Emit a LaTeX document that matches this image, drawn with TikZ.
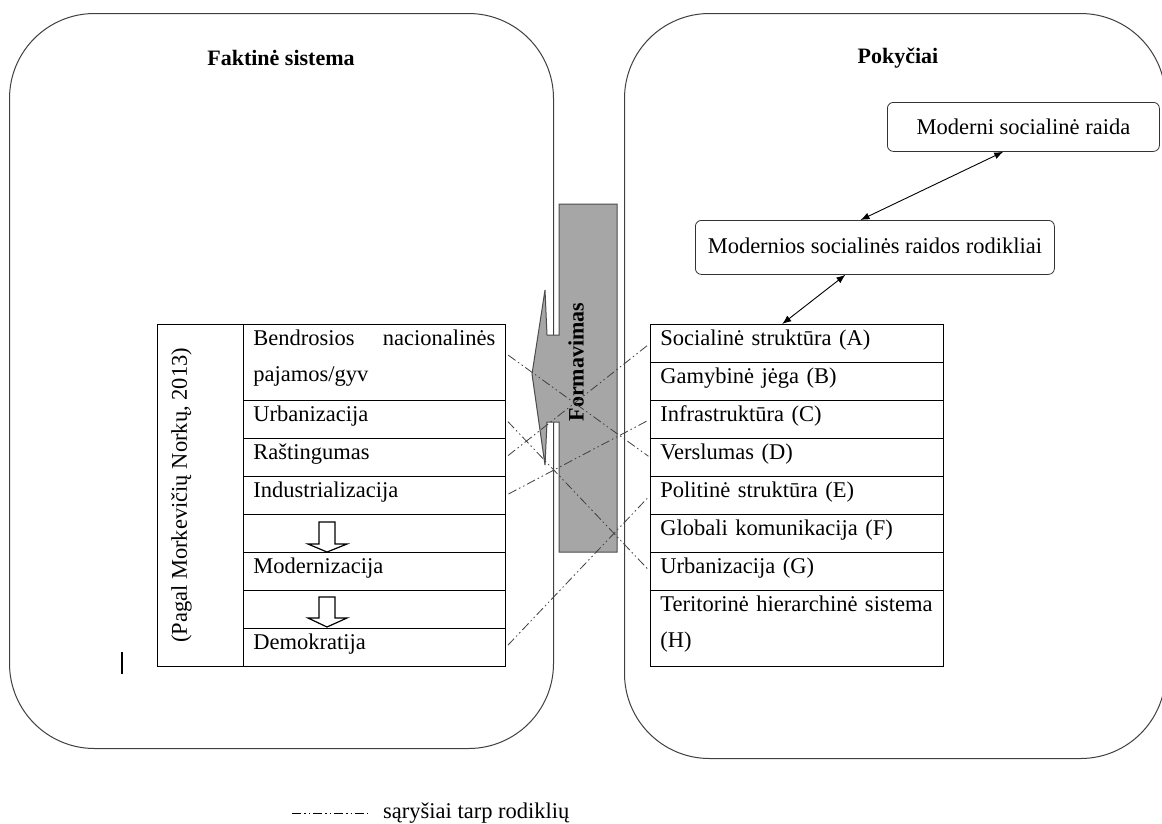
\documentclass[tikz,border=0pt]{standalone}
\usepackage{fontspec}
\setmainfont{Liberation Serif}
\usetikzlibrary{calc,arrows.meta}
\newcommand{\cellfont}{\fontsize{22.5}{36}\selectfont}
\newcommand{\ttlfont}{\fontsize{22}{26}\selectfont\bfseries}
\definecolor{callgray}{HTML}{A6A6A6}
\definecolor{linegray}{HTML}{404040}
\begin{document}
\begin{tikzpicture}[x=1pt,y=-1pt,
  contbox/.style={draw=black!75, line width=1pt, rounded corners=85pt, anchor=north west, inner sep=0pt},
  cellL/.style={draw=black, line width=0.8pt, rectangle, anchor=north west, inner xsep=10pt, inner ysep=0pt,
                text width=242pt, align=left, font=\cellfont, text height=21pt, text depth=17pt},
  cellR/.style={cellL, text width=273pt},
  topbox/.style={draw=black!80, line width=0.8pt, rounded corners=6pt, anchor=north west, inner sep=0pt, font=\cellfont},
  dbl/.style={{Latex[length=9pt,width=7pt]}-{Latex[length=9pt,width=7pt]}, line width=0.9pt},
  rel/.style={draw=linegray, line width=0.8pt, dash pattern=on 9pt off 3pt on 1.5pt off 3pt on 1.5pt off 3pt, shorten <=3pt, shorten >=2pt},
  hollow/.style={draw=black, line width=1.2pt, fill=white},
  ttl/.style={font=\ttlfont}
]
\fill[white] (0,0) rectangle (1162,823);
\useasboundingbox (0,0) rectangle (1162,823);

% containers
\node[contbox, minimum width=544pt, minimum height=735pt] (leftsys) at (9,13) {};
\node[contbox, minimum width=541pt, minimum height=745pt] (rightsys) at (624,13) {};
\node[ttl] (lefttitle) at (281,58) {Faktinė sistema};
\node[ttl] (righttitle) at (898,58) {Pokyčiai};

% central callout arrow
\filldraw[fill=callgray, draw=black!70, line width=1pt]
  (559,204) -- (617,204) -- (617,552) -- (559,552) -- (559,422) -- (547,422)
  -- (545,465) -- (532,374) -- (545,290) -- (547,335) -- (559,335) -- cycle;
\node[rotate=90, font=\ttlfont] (form) at (576,362) {Formavimas};

% left table
\node[draw=black, line width=0.8pt, anchor=north west, inner sep=0pt, minimum width=86pt, minimum height=342pt] (lcol) at (157,324) {};
\node[rotate=90, font=\cellfont] (lcoltext) at ([xshift=-19pt]lcol.center) {(Pagal Morkevičių Norkų, 2013)};
\node[cellL, text depth=55pt] (l1) at (243,324) {Bendrosios\hfill nacionalinės\\pajamos/gyv};
\node[cellL] (l2) at (243,400) {Urbanizacija};
\node[cellL] (l3) at (243,438) {Raštingumas};
\node[cellL] (l4) at (243,476) {Industrializacija};
\node[cellL] (l5) at (243,514) {};
\node[cellL] (l6) at (243,552) {Modernizacija};
\node[cellL] (l7) at (243,590) {};
\node[cellL] (l8) at (243,628) {Demokratija};

% hollow down arrows
\draw[hollow] (319,522) -- (335,522) -- (335,544) -- (347,544) -- (327,552) -- (308,544) -- (319,544) -- cycle;
\draw[hollow] (319,597) -- (335,597) -- (335,618) -- (347,618) -- (327,627) -- (308,618) -- (319,618) -- cycle;

% right table
\node[cellR] (r1) at (650,324) {Socialinė struktūra (A)};
\node[cellR] (r2) at (650,362) {Gamybinė jėga (B)};
\node[cellR] (r3) at (650,400) {Infrastruktūra (C)};
\node[cellR] (r4) at (650,438) {Verslumas (D)};
\node[cellR] (r5) at (650,476) {Politinė struktūra (E)};
\node[cellR] (r6) at (650,514) {Globali komunikacija (F)};
\node[cellR] (r7) at (650,552) {Urbanizacija (G)};
\node[cellR, text depth=55pt] (r8) at (650,590) {Teritorinė hierarchinė sistema\\(H)};

% top boxes
\node[topbox, minimum width=272pt, minimum height=49pt] (msr) at (887,102) {Moderni socialinė raida};
\node[topbox, minimum width=359pt, minimum height=54pt] (msrr) at (695,220) {\raisebox{3pt}{Modernios socialinės raidos rodikliai}};

\draw[dbl] ($(msr.south west)!0.426!(msr.south east)$) -- ($(msrr.north west)!0.46!(msrr.north east)$);
\draw[dbl] ($(msrr.south west)!0.418!(msrr.south east)$) -- ($(r1.north west)!0.45!(r1.north east)$);

% relations
\draw[rel] ([yshift=9pt]l1.east) -- (r4.west);
\draw[rel] (l2.east) -- (r7.west);
\draw[rel] (l3.east) -- (r1.west);
\draw[rel] (l4.east) -- (r3.west);
\draw[rel] (l8.east) -- (r5.west);

% stray bar
\draw[line width=2pt] (122,652) -- (122,674);

% legend
\node[anchor=west, font=\cellfont, inner sep=0pt] (legtext) at (383,813) {sąryšiai tarp rodiklių};
\coordinate (legstart) at (292,813);
\draw[draw=black, line width=0.8pt, dash pattern=on 9pt off 3pt on 1.5pt off 3pt on 1.5pt off 3pt] (legstart) -- ([xshift=-15pt]legtext.west);
\end{tikzpicture}
\end{document}
